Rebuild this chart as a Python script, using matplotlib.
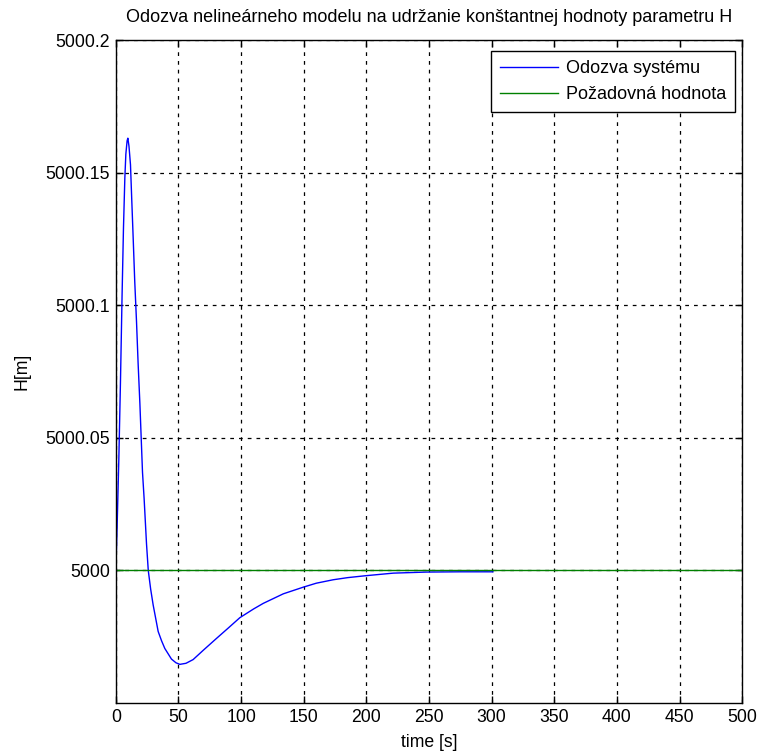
import matplotlib
matplotlib.use("Agg")
import matplotlib.pyplot as plt

plt.rcParams['font.family'] = ['Liberation Sans', 'DejaVu Sans']

# response of the system
t = [0, 0.5, 1.0, 2.4, 3.7, 5.0, 6.1, 7.2, 8.0, 9.0, 9.6, 10.5, 11.7, 12.7,
     13.8, 15.1, 16.5, 17.8, 19.2, 21.3, 22.6, 24.5, 25.9, 27.8, 29.8, 33.8,
     36.5, 39.1, 44.4, 48, 51.1, 56, 61.7, 70, 80.4, 90, 99, 110, 117.7,
     133.7, 149.6, 160, 173.5, 185, 198.9, 221.5, 248, 275, 301]
H = [5000.002, 5000.008, 5000.016, 5000.042, 5000.071, 5000.104, 5000.129,
     5000.148, 5000.157, 5000.162, 5000.163, 5000.160, 5000.153, 5000.140,
     5000.126, 5000.109, 5000.094, 5000.078, 5000.063, 5000.037, 5000.027,
     5000.010, 5000.000, 4999.993, 4999.987, 4999.977, 4999.9735, 4999.9706,
     4999.9666, 4999.9652, 4999.9646, 4999.9650, 4999.9664, 4999.9700,
     4999.9744, 4999.9784, 4999.9822, 4999.9855, 4999.9876, 4999.9912,
     4999.9937, 4999.9952, 4999.9965, 4999.9973, 4999.998, 4999.999,
     4999.9994, 4999.9995, 4999.9995]

t_ref = [0, 500]
H_ref = [5000, 5000]

xticks = [0, 50, 100, 150, 200, 250, 300, 350, 400, 450, 500]
yticks = [5000, 5000.05, 5000.1, 5000.15, 5000.2]
ytick_labels = ["5000", "5000.05", "5000.1", "5000.15", "5000.2"]

fig = plt.figure(figsize=(7.62, 7.56), dpi=100)
ax = fig.add_axes([0.152, 0.070, 0.822, 0.877])

ax.plot(t, H, color=(0, 0, 1), lw=1, label="Odozva systému")
ax.plot(t_ref, H_ref, color=(0, 0.5, 0), lw=1, label="Požadovná hodnota")

ax.set_xlim(0, 500)
ax.set_ylim(4999.95, 5000.2)
ax.set_xticks(xticks)
ax.set_yticks(yticks)
ax.set_yticklabels(ytick_labels)
ax.tick_params(direction='in', length=5, top=True, right=True,
               labelsize=12.7, width=1, pad=4)
ax.grid(True, color='black', linestyle=(0, (3, 4)), linewidth=0.9)
for s in ax.spines.values():
    s.set_linewidth(1)

ax.set_title("Odozva nelineárneho modelu na udržanie konštantnej hodnoty parametru H",
             fontsize=13, pad=13)
ax.set_xlabel("time [s]", fontsize=12.7, labelpad=6)
ax.set_ylabel("H[m]", fontsize=12.7)
ax.yaxis.set_label_coords(-0.137, 0.5)

leg = ax.legend(loc='upper right', bbox_to_anchor=(0.989, 0.983), fontsize=13,
                fancybox=False, framealpha=1, edgecolor='black',
                handlelength=3.2, handletextpad=0.45, borderpad=0.5,
                labelspacing=0.5, borderaxespad=0)
leg.get_frame().set_linewidth(1)

fig.savefig("out.png", dpi=100)
